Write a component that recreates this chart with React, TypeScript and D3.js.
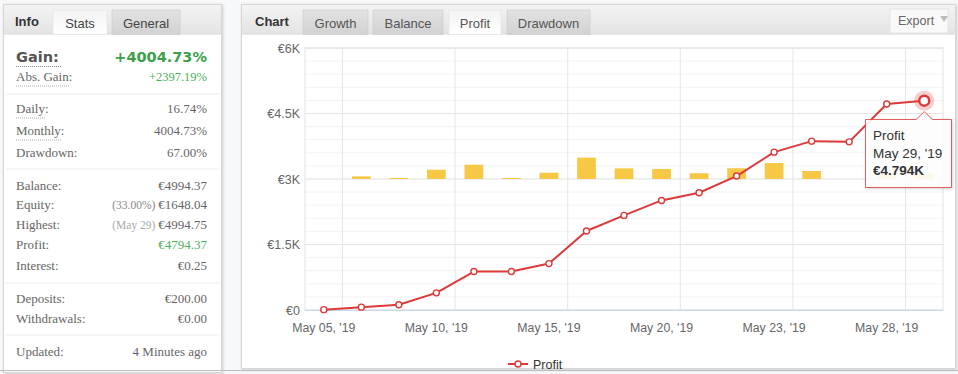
import React from "react";
import * as d3 from "d3";

// chart values
const categories = [
  "May 05, '19", "May 07, '19", "May 08, '19", "May 10, '19", "May 13, '19",
  "May 14, '19", "May 15, '19", "May 16, '19", "May 17, '19", "May 20, '19",
  "May 21, '19", "May 22, '19", "May 23, '19", "May 24, '19", "May 27, '19",
  "May 28, '19", "May 29, '19",
];
const profit = [8, 65, 120, 393, 880, 882, 1063, 1810, 2166, 2509, 2685, 3067, 3615, 3867, 3851, 4719, 4794];
const daily = [0, 2.0, 0.8, 7.1, 10.9, 0.8, 4.8, 16.3, 8.1, 7.7, 4.4, 8.2, 12.2, 6.1, 0, 3.8, 3.8];
const yTicks = [0, 1500, 3000, 4500, 6000];
const yTickLabels = ["€0", "€1.5K", "€3K", "€4.5K", "€6K"];
const xLabelEvery = 3;
const hoverIndex = 16;

// left info panel text
const infoTabs = ["Stats", "General"];
const chartTabs = ["Growth", "Balance", "Profit", "Drawdown"];
const activeChartTab = "Profit";
const statLabels = ["Daily:", "Monthly:", "Drawdown:", "Balance:", "Equity:", "Highest:", "Profit:", "Interest:", "Deposits:", "Withdrawals:", "Updated:"];
const statValues = ["16.74%", "4004.73%", "67.00%", "€4994.37", "€1648.04", "€4994.75", "€4794.37", "€0.25", "€200.00", "€0.00", "4 Minutes ago"];
const statPrefixes = ["", "", "", "", "(33.00%)", "(May 29)", "", "", "", "", ""];

const sans = "'Liberation Sans', Arial, sans-serif";
const serif = "'Liberation Serif', 'Times New Roman', serif";
const red = "#dc3a3a";
const green = "#3c9f4a";

const App = () => {
  const W = 958, H = 374;
  const margin = { left: 305, right: 15, top: 48, bottom: 64 };

  const x = d3.scaleBand().domain(categories).range([margin.left, W - margin.right]).padding(0);
  const y = d3.scaleLinear().domain([0, 6000]).range([H - margin.bottom, margin.top]);
  const yBar = d3.scaleLinear().domain([-100, 100]).range([H - margin.bottom, margin.top]); // hidden 2nd axis
  const bw = x.bandwidth();
  const cx = (i: number) => (x(categories[i]) as number) + bw / 2;

  const line = d3.line<number>().x((_, i) => cx(i)).y(d => y(d));
  const minor = d3.range(0, 6001, 300);

  // left panel row baselines
  const rowY = [113, 135, 157, 190, 209, 229, 249, 270, 303, 323, 356];
  const separators = [94, 169, 283, 335];

  const hx = cx(hoverIndex), hy = y(profit[hoverIndex]);
  const tipL = 865, tipR = 951, tipT = 119, tipB = 187;

  return (
    <svg width={W} height={H} style={{ position: "absolute", left: 0, top: 0 }}>
      <defs>
        <linearGradient id="hdr" x1="0" y1="0" x2="0" y2="1">
          <stop offset="0" stopColor="#f3f3f3" />
          <stop offset="1" stopColor="#e4e4e4" />
        </linearGradient>
        <linearGradient id="tab" x1="0" y1="0" x2="0" y2="1">
          <stop offset="0" stopColor="#e2e2e2" />
          <stop offset="1" stopColor="#d2d2d2" />
        </linearGradient>
        <linearGradient id="tabOn" x1="0" y1="0" x2="0" y2="1">
          <stop offset="0" stopColor="#f4f4f4" />
          <stop offset="1" stopColor="#ffffff" />
        </linearGradient>
        <filter id="shadow" x="-20%" y="-20%" width="140%" height="140%">
          <feDropShadow dx="1" dy="1" stdDeviation="1.5" floodColor="#000" floodOpacity="0.18" />
        </filter>
      </defs>

      <rect x={0} y={0} width={W} height={H} fill="#f6f8fa" />

      {/* ---------- left info panel ---------- */}
      <rect x={3.5} y={4.5} width={218} height={368} fill="#fff" stroke="#d6d6d6" filter="url(#shadow)" />
      <rect x={4} y={5} width={217} height={29} fill="url(#hdr)" />
      <line x1={4} x2={221} y1={34} y2={34} stroke="#d8d8d8" />
      <text x={15} y={26} fontFamily={sans} fontSize={13} fontWeight="bold" fill="#333">Info</text>
      {infoTabs.map((t, i) => {
        const tx = i === 0 ? 53 : 112;
        const tw = i === 0 ? 54 : 68;
        return (
          <g key={t}>
            <rect x={tx} y={10} width={tw} height={24.5} fill={i === 0 ? "url(#tabOn)" : "url(#tab)"} stroke={i === 0 ? "#e6e6e6" : "#d0d0d0"} strokeWidth={0.8} />
            <text x={tx + tw / 2} y={28} textAnchor="middle" fontFamily={sans} fontSize={13} fill="#444">{t}</text>
          </g>
        );
      })}

      <text x={16} y={62} fontFamily="'DejaVu Sans', Verdana, sans-serif" fontSize={14.5} fontWeight="bold" fill="#555">Gain:</text>
      <line x1={16} x2={62} y1={66.5} y2={66.5} stroke="#888" strokeDasharray="1,1" />
      <text x={207} y={62} textAnchor="end" fontFamily="'DejaVu Sans', Verdana, sans-serif" fontSize={14.5} fontWeight="bold" fill={green}>+4004.73%</text>
      <text x={16} y={81} fontFamily={serif} fontSize={13} fill="#666">Abs. Gain:</text>
      <line x1={16} x2={69} y1={86} y2={86} stroke="#aaa" strokeDasharray="1,1" />
      <text x={207} y={81} textAnchor="end" fontFamily={serif} fontSize={12.5} fill="#4caf5a">+2397.19%</text>

      {separators.map(s => (
        <line key={s} x1={6} x2={219} y1={s} y2={s} stroke="#ececec" />
      ))}

      {statLabels.map((l, i) => (
        <g key={l}>
          <text x={16} y={rowY[i]} fontFamily={serif} fontSize={13} fill="#666">{l}</text>
          {i < 2 && <line x1={16} x2={i === 0 ? 46 : 62} y1={rowY[i] + 5} y2={rowY[i] + 5} stroke="#aaa" strokeDasharray="1,1" />}
          <text x={207} y={rowY[i]} textAnchor="end" fontFamily={serif} fontSize={13} fill={l === "Profit:" ? "#4caf5a" : "#666"}>
            {statPrefixes[i] && (
              <tspan fontSize={11.5} fill={l === "Highest:" ? "#aaa" : "#888"}>{statPrefixes[i] + " "}</tspan>
            )}
            {statValues[i]}
          </text>
        </g>
      ))}

      {/* ---------- chart panel ---------- */}
      <rect x={241.5} y={4.5} width={714} height={364} fill="#fff" stroke="#d6d6d6" filter="url(#shadow)" />
      <rect x={242} y={5} width={713} height={29} fill="url(#hdr)" />
      <line x1={242} x2={955} y1={34} y2={34} stroke="#d8d8d8" />
      <text x={255} y={26} fontFamily={sans} fontSize={13} fontWeight="bold" fill="#333">Chart</text>
      {chartTabs.map((t, i) => {
        const starts = [303, 373, 449, 507];
        const widths = [65, 70, 52, 83];
        const on = t === activeChartTab;
        return (
          <g key={t}>
            <rect x={starts[i]} y={10} width={widths[i]} height={24.5} fill={on ? "url(#tabOn)" : "url(#tab)"} stroke={on ? "#e6e6e6" : "#d0d0d0"} strokeWidth={0.8} />
            <text x={starts[i] + widths[i] / 2} y={28} textAnchor="middle" fontFamily={sans} fontSize={13} fill="#555">{t}</text>
          </g>
        );
      })}
      <rect x={890} y={9} width={58} height={24} fill="#f9f9f9" stroke="#e4e4e4" />
      <text x={898} y={25} fontFamily={sans} fontSize={12.5} fill="#666">Export</text>
      <path d="M940,16 L948,16 L944,22 Z" fill="#bbb" />

      {/* minor grid */}
      {minor.map(v => (
        <line key={"m" + v} x1={margin.left} x2={W - margin.right} y1={y(v)} y2={y(v)} stroke="#f3f3f3" />
      ))}
      {/* major grid */}
      {yTicks.map(v => (
        <line key={"g" + v} x1={margin.left} x2={W - margin.right} y1={y(v)} y2={y(v)} stroke="#e6e6e6" />
      ))}
      {categories.map((c, i) => i % xLabelEvery === 1 && (
        <line key={"v" + c} x1={x(c)} x2={x(c)} y1={margin.top} y2={y(0)} stroke="#e6e6e6" />
      ))}
      <rect x={margin.left} y={margin.top} width={W - margin.right - margin.left} height={y(0) - margin.top} fill="none" stroke="#e3e3e3" />
      <line x1={margin.left} x2={W - margin.right} y1={y(0) + 0.5} y2={y(0) + 0.5} stroke="#ccd6eb" />

      {/* y labels */}
      {yTicks.map((v, i) => (
        <text key={"yl" + v} x={300} y={y(v) + 4.5} textAnchor="end" fontFamily={sans} fontSize={12.5} fill="#666">{yTickLabels[i]}</text>
      ))}
      {/* x labels */}
      {categories.map((c, i) => i % xLabelEvery === 0 && (
        <text key={"xl" + c} x={cx(i)} y={332} textAnchor="middle" fontFamily={sans} fontSize={12.3} fill="#666">{c}</text>
      ))}

      {/* daily bars */}
      {daily.map((d, i) => d > 0 && (
        <rect key={"b" + i} x={cx(i) - bw * 0.25} width={bw * 0.5} y={yBar(d)} height={yBar(0) - yBar(d)} fill="#f6c846" />
      ))}

      {/* profit line */}
      <path d={line(profit) || ""} fill="none" stroke={red} strokeWidth={2} strokeLinejoin="round" />
      {profit.map((v, i) => i !== hoverIndex && (
        <circle key={"p" + i} cx={cx(i)} cy={y(v)} r={3} fill="#fff" stroke={red} strokeWidth={1.4} />
      ))}
      <circle cx={hx} cy={hy} r={10} fill={red} opacity={0.25} />
      <circle cx={hx} cy={hy} r={5} fill="#fff" stroke={red} strokeWidth={2.5} />

      {/* tooltip */}
      <path
        d={`M${tipL + 0.5},${tipT + 0.5} L${hx - 8},${tipT + 0.5} L${hx},${hy + 11} L${hx + 8},${tipT + 0.5} L${tipR + 0.5},${tipT + 0.5} L${tipR + 0.5},${tipB + 0.5} L${tipL + 0.5},${tipB + 0.5} Z`}
        fill="#fff" fillOpacity={0.88} stroke={red} strokeOpacity={0.8} strokeWidth={1} filter="url(#shadow)"
      />
      <text x={873} y={140} fontFamily={sans} fontSize={13.5} fill="#333">Profit</text>
      <text x={873} y={158} fontFamily={sans} fontSize={13.5} fill="#333">{categories[hoverIndex]}</text>
      <text x={873} y={175} fontFamily={sans} fontSize={13.5} fontWeight="bold" fill="#333">
        {"€" + d3.format(".3f")(profit[hoverIndex] / 1000) + "K"}
      </text>

      {/* legend */}
      <line x1={508} x2={528} y1={364} y2={364} stroke={red} strokeWidth={2} />
      <circle cx={518} cy={364} r={3} fill="#fff" stroke={red} strokeWidth={1.4} />
      <text x={533} y={368.5} fontFamily={sans} fontSize={12.5} fill="#333">Profit</text>

      <line x1={0} x2={W} y1={370.5} y2={370.5} stroke="#bdbdbd" />
    </svg>
  );
};

export default App;
